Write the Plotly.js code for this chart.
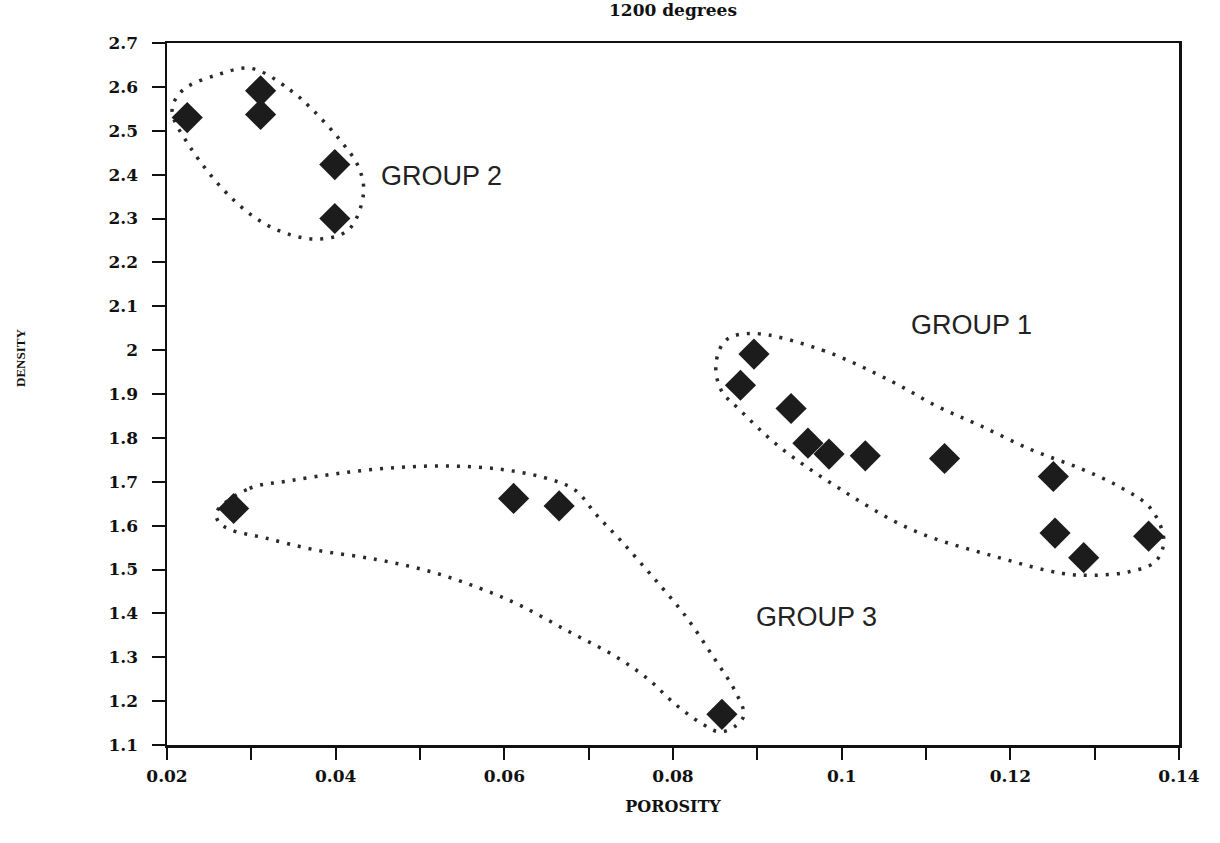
<!DOCTYPE html>
<html>
<head>
<meta charset="utf-8">
<script src="https://cdn.plot.ly/plotly-3.0.1.min.js"></script>
<style>
  html, body { margin: 0; padding: 0; background: #ffffff; }
  #chart { width: 1220px; height: 843px; }
</style>
</head>
<body>
<div id="chart"></div>
<script>
// ---- Data ----
const group1Porosity = [0.0896, 0.0880, 0.0940, 0.0960, 0.0985, 0.1028, 0.1122, 0.1251, 0.1253, 0.1287, 0.1364];
const group1Density  = [1.991, 1.920, 1.867, 1.788, 1.763, 1.759, 1.753, 1.712, 1.583, 1.527, 1.576];

const group2Porosity = [0.0224, 0.0311, 0.0311, 0.0399, 0.0399];
const group2Density  = [2.530, 2.591, 2.537, 2.423, 2.300];

const group3Porosity = [0.0279, 0.0611, 0.0665, 0.0858];
const group3Density  = [1.639, 1.662, 1.645, 1.170];

// Hand-drawn dotted outlines round each group
const outline1X = [0.0895, 0.0977, 0.1060, 0.1112, 0.1163, 0.1226, 0.1282, 0.1329, 0.1366, 0.1382, 0.1372, 0.1341, 0.1301, 0.1262, 0.1183, 0.1084, 0.0997, 0.0926, 0.0879, 0.0857, 0.0851, 0.0863, 0.0895];
const outline1Y = [2.038, 2.000, 1.928, 1.873, 1.829, 1.772, 1.731, 1.689, 1.640, 1.567, 1.518, 1.495, 1.487, 1.491, 1.529, 1.590, 1.685, 1.780, 1.864, 1.909, 1.970, 2.023, 2.038];

const outline2X = [0.0300, 0.0346, 0.0373, 0.0405, 0.0427, 0.0433, 0.0415, 0.0377, 0.0326, 0.0279, 0.0227, 0.0206, 0.0219, 0.0259, 0.0300];
const outline2Y = [2.642, 2.593, 2.547, 2.479, 2.418, 2.357, 2.274, 2.253, 2.278, 2.342, 2.464, 2.547, 2.593, 2.627, 2.642];

const outline3X = [0.0259, 0.0298, 0.0345, 0.0407, 0.0470, 0.0532, 0.0593, 0.0648, 0.0684, 0.0709, 0.0739, 0.0777, 0.0816, 0.0848, 0.0873, 0.0884, 0.0873, 0.0855, 0.0834, 0.0802, 0.0770, 0.0730, 0.0675, 0.0620, 0.0570, 0.0511, 0.0448, 0.0375, 0.0316, 0.0275, 0.0261, 0.0259];
const outline3Y = [1.632, 1.685, 1.702, 1.720, 1.732, 1.736, 1.729, 1.709, 1.681, 1.625, 1.564, 1.481, 1.391, 1.300, 1.225, 1.168, 1.142, 1.130, 1.149, 1.194, 1.251, 1.304, 1.360, 1.417, 1.458, 1.496, 1.523, 1.545, 1.572, 1.591, 1.609, 1.632];

const groupLabels = ["GROUP 1", "GROUP 2", "GROUP 3"];
const groupLabelX = [0.1154, 0.0526, 0.0970];
const groupLabelY = [2.057, 2.397, 1.392];

const chartTitle = "1200 degrees";
const xTitle = "POROSITY";
const yTitle = "DENSITY";

// ---- Styles ----
const serif = "DejaVu Serif, Liberation Serif, serif";
const sans = "Liberation Sans, Arial, sans-serif";
const dotLine = { color: "#2a2a2a", width: 3.5, dash: "3px,8px", shape: "spline", smoothing: 1 };
const diamond = { symbol: "diamond", size: 24, color: "#1c1c1c", line: { width: 0 } };

const traces = [
  { x: outline1X, y: outline1Y, mode: "lines", line: dotLine, hoverinfo: "skip" },
  { x: outline2X, y: outline2Y, mode: "lines", line: dotLine, hoverinfo: "skip" },
  { x: outline3X, y: outline3Y, mode: "lines", line: dotLine, hoverinfo: "skip" },
  { x: group1Porosity, y: group1Density, mode: "markers", marker: diamond, name: groupLabels[0] },
  { x: group2Porosity, y: group2Density, mode: "markers", marker: diamond, name: groupLabels[1] },
  { x: group3Porosity, y: group3Density, mode: "markers", marker: diamond, name: groupLabels[2] }
];

const annotations = groupLabels.map((t, i) => ({
  text: t, x: groupLabelX[i], y: groupLabelY[i], xref: "x", yref: "y",
  showarrow: false, font: { family: sans, size: 27, color: "#222" }
}));
annotations.push({
  text: yTitle, xref: "paper", yref: "paper",
  x: (20 - 167) / 1012, y: (745 - 358) / 702,
  xanchor: "center", yanchor: "middle", textangle: -90, showarrow: false,
  font: { family: "Liberation Serif, serif", size: 13, color: "#111", weight: "bold" }
});

const layout = {
  width: 1220, height: 843,
  margin: { l: 167, r: 41, t: 43, b: 98 },
  paper_bgcolor: "#ffffff", plot_bgcolor: "#ffffff",
  showlegend: false,
  title: { text: chartTitle, x: 0.5, xref: "paper", xanchor: "center", y: 1 - 10 / 843, yanchor: "middle",
           font: { family: serif, size: 17, color: "#111", weight: "bold" } },
  xaxis: {
    range: [0.02, 0.14], dtick: 0.02, tick0: 0.02,
    showgrid: false, zeroline: false,
    showline: true, linecolor: "#111", linewidth: 2.5, mirror: true,
    ticks: "outside", ticklen: 12, tickwidth: 2, tickcolor: "#111",
    minor: { dtick: 0.01, tick0: 0.02, ticks: "outside", ticklen: 12, tickwidth: 2, tickcolor: "#111", showgrid: false },
    tickfont: { family: serif, size: 17, color: "#111", weight: "bold" },
    ticklabelstandoff: 2,
    title: { text: xTitle, standoff: 16, font: { family: serif, size: 16, color: "#111", weight: "bold" } }
  },
  yaxis: {
    range: [1.1, 2.7], dtick: 0.1, tick0: 1.1,
    showgrid: false, zeroline: false,
    showline: true, linecolor: "#111", linewidth: 2.5, mirror: true,
    ticks: "outside", ticklen: 13, tickwidth: 2, tickcolor: "#111",
    tickfont: { family: serif, size: 17, color: "#111", weight: "bold" },
    ticklabelstandoff: 10
  },
  annotations: annotations
};

Plotly.newPlot("chart", traces, layout, { displayModeBar: false, staticPlot: true });
</script>
</body>
</html>
